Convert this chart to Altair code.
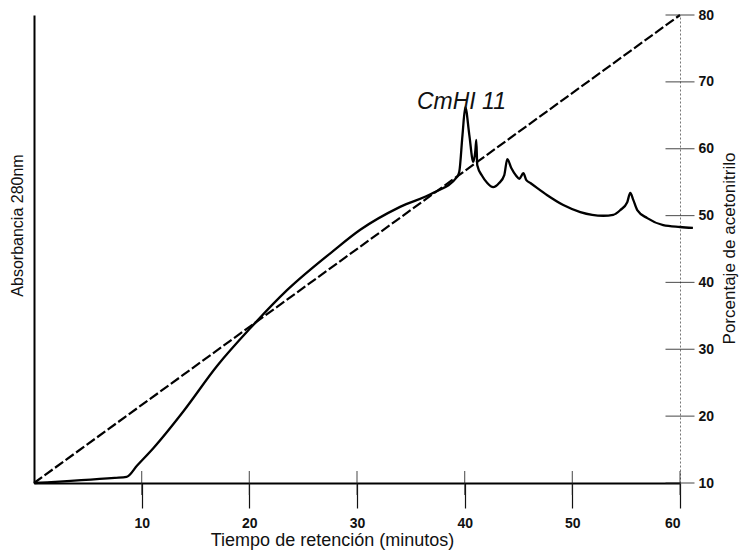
import altair as alt
import pandas as pd

# Absorbance trace at 280 nm (arbitrary units, 0-1) against retention time
time_min = [0, 7.5, 8.6, 9.6, 11.1, 13.9, 17.0, 20.1, 23.5, 27.8, 30.3, 34.0, 37.1, 39.3,
            39.5, 39.8, 40.06, 40.43, 40.8, 41.0, 41.08, 41.17, 41.63, 42.1, 42.65,
            43.2, 43.68, 43.96, 44.33, 44.8, 45.08, 45.45, 45.73, 46.1, 47.67,
            49.16, 50.74, 52.88, 53.8, 54.45, 55.1, 55.38, 55.66, 56.03, 56.96,
            58.44, 60.0, 61.2]
absorbance = [0.0, 0.011, 0.013, 0.038, 0.075, 0.154, 0.250, 0.331, 0.412, 0.496, 0.541,
              0.590, 0.620, 0.654, 0.665, 0.744, 0.803, 0.744, 0.686, 0.712, 0.733,
              0.679, 0.656, 0.641, 0.632, 0.641, 0.658, 0.692, 0.673, 0.656, 0.650,
              0.662, 0.647, 0.641, 0.615, 0.594, 0.579, 0.571, 0.573, 0.583, 0.600,
              0.620, 0.605, 0.583, 0.566, 0.551, 0.547, 0.545]

# Acetonitrile gradient (%)
gradient_time = [0, 60]
gradient_pct = [10, 80]

time_ticks = [10, 20, 30, 40, 50, 60]
pct_ticks = [10, 20, 30, 40, 50, 60, 70, 80]

peak_label = "CmHI 11"
peak_time = 39.7
peak_abs = 0.803

FONT = "Liberation Sans"
W, H = 646, 468

trace = pd.DataFrame({"t": time_min, "a": absorbance})
grad = pd.DataFrame({"t": gradient_time, "p": gradient_pct})
xt = pd.DataFrame({"t": time_ticks, "p": [10] * len(time_ticks)})
yt = pd.DataFrame({"t": [60] * len(pct_ticks), "p": pct_ticks})
lab = pd.DataFrame({"t": [peak_time], "a": [peak_abs], "txt": [peak_label]})

x_enc = alt.X(
    "t:Q",
    scale=alt.Scale(domain=[0, 60], nice=False, zero=False),
    axis=alt.Axis(
        values=time_ticks, format="d", grid=False,
        domainColor="black", domainWidth=2,
        tickColor="#111", tickWidth=1.2, tickSize=25,
        labelFont=FONT, labelFontSize=14, labelFontWeight="bold",
        labelColor="#111", labelPadding=8,
        title="Tiempo de retención (minutos)", titleFont=FONT,
        titleFontSize=18, titleFontWeight="normal", titleColor="#111",
        titleX=298, titleY=62, titleBaseline="alphabetic",
    ),
)
x_plain = alt.X("t:Q", scale=alt.Scale(domain=[0, 60], nice=False, zero=False))

abs_scale = alt.Scale(domain=[0, 1], nice=False, zero=False)
pct_scale = alt.Scale(domain=[10, 80], nice=False, zero=False)

curve = alt.Chart(trace).mark_line(
    color="black", strokeWidth=2.3, interpolate="monotone"
).encode(
    x=x_enc,
    y=alt.Y(
        "a:Q", scale=abs_scale,
        axis=alt.Axis(
            orient="left", labels=False, ticks=False, grid=False,
            domainColor="black", domainWidth=2,
            title="Absorbancia 280nm", titleFont=FONT, titleFontSize=16,
            titleFontWeight="normal", titleColor="#111",
            titleX=-17, titleY=210, titleBaseline="middle", titleAngle=270,
        ),
    ),
    order="t:Q",
)

label = alt.Chart(lab).mark_text(
    font=FONT, fontSize=23, fontStyle="italic", color="#111",
    baseline="alphabetic", dy=2,
).encode(x=x_plain, y=alt.Y("a:Q", scale=abs_scale), text="txt:N")

gradient = alt.Chart(grad).mark_line(
    color="black", strokeWidth=2.2, strokeDash=[10, 3]
).encode(
    x=x_plain,
    y=alt.Y(
        "p:Q", scale=pct_scale,
        axis=alt.Axis(
            orient="right", values=pct_ticks, format="d", grid=False,
            ticks=False, domainColor="#777", domainWidth=1, domainDash=[2, 2],
            labelFont=FONT, labelFontSize=14, labelFontWeight="bold",
            labelColor="#111", labelPadding=18,
            title="Porcentaje de acetonitrilo", titleFont=FONT, titleFontSize=17,
            titleFontWeight="normal", titleColor="#111",
            titleX=49, titleY=233, titleBaseline="middle", titleAngle=270,
        ),
    ),
)

# Cross ticks on the percentage axis
pct_cross = alt.Chart(yt).mark_tick(
    orient="horizontal", size=29, thickness=1.2, color="#222"
).encode(x=x_plain, y=alt.Y("p:Q", scale=pct_scale))

# Upper part of the time ticks, above the baseline
time_cross = alt.Chart(xt).mark_tick(
    orient="vertical", size=24, thickness=1.2, color="#222"
).encode(x=x_plain, y=alt.Y("p:Q", scale=pct_scale))

left_layer = alt.layer(curve, label)
right_layer = alt.layer(gradient, pct_cross, time_cross)

chart = (
    alt.layer(left_layer, right_layer)
    .resolve_scale(y="independent")
    .properties(
        width=W, height=H,
        autosize=alt.AutoSizeParams(type="none"),
        padding={"left": 34, "top": 15, "right": 59, "bottom": 75},
        background="white",
    )
    .configure_view(stroke=None)
)

chart.save("out.html", embed_options={"renderer": "svg", "actions": False})
